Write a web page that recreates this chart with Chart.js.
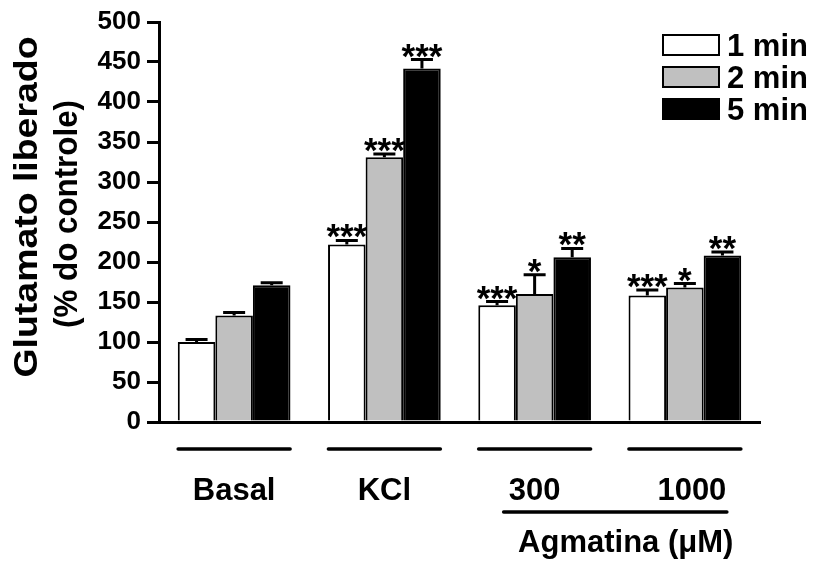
<!DOCTYPE html>
<html>
<head>
<meta charset="utf-8">
<script src="https://cdn.jsdelivr.net/npm/chart.js@4.4.1/dist/chart.umd.min.js"></script>
<style>
  html, body { margin: 0; padding: 0; background: #fff; }
  canvas { display: block; }
</style>
</head>
<body>
<canvas id="chart" width="815" height="572"></canvas>
<script>
// data
const groups    = ["Basal", "KCl", "300", "1000"];
const series    = ["1 min", "2 min", "5 min"];
const mean1min  = [100, 222, 146, 158];
const mean2min  = [133, 331, 160, 168];
const mean5min  = [171, 442, 206, 208];
const sem1min   = [3, 5, 4.5, 7];
const sem2min   = [4, 4, 24, 5];
const sem5min   = [3, 11, 11, 4.5];
const stars1min = ["", "***", "***", "***"];
const stars2min = ["", "***", "*", "*"];
const stars5min = ["", "***", "**", "**"];
const yTicks    = [0, 50, 100, 150, 200, 250, 300, 350, 400, 450, 500];
const agmatinaLabel = "Agmatina (\u03bcM)";
const yTitle    = ["Glutamato liberado", "(% do controle)"];

const FONT  = "'Liberation Sans', Arial, sans-serif";
const BLACK = "#000000";
const GRAY  = "#c0c0c0";
const WHITE = "#ffffff";

const errs  = [sem1min, sem2min, sem5min];
const stars = [stars1min, stars2min, stars5min];

// error bars + significance stars
const errorBars = {
  id: "errorBars",
  afterDatasetsDraw(chart) {
    const ctx = chart.ctx, y = chart.scales.y;
    ctx.save();
    chart.data.datasets.forEach((ds, d) => {
      const meta = chart.getDatasetMeta(d);
      meta.data.forEach((bar, i) => {
        const top = y.getPixelForValue(ds.data[i] + errs[d][i]);
        ctx.strokeStyle = BLACK;
        ctx.lineWidth = 3;
        ctx.beginPath();
        ctx.moveTo(bar.x, bar.y);
        ctx.lineTo(bar.x, top);
        ctx.moveTo(bar.x - 11, top);
        ctx.lineTo(bar.x + 11, top);
        ctx.stroke();
        if (stars[d][i]) {
          ctx.fillStyle = BLACK;
          ctx.font = "bold 35px " + FONT;
          ctx.textAlign = "center";
          ctx.textBaseline = "alphabetic";
          ctx.fillText(stars[d][i], bar.x, top + 8);
        }
      });
    });
    ctx.restore();
  }
};

// legend in the top right corner
const boxLegend = {
  id: "boxLegend",
  afterDraw(chart) {
    const ctx = chart.ctx;
    ctx.save();
    chart.data.datasets.forEach((ds, d) => {
      const top = 34 + d * 32;
      ctx.fillStyle = ds.backgroundColor;
      ctx.fillRect(662, top, 58, 22);
      ctx.strokeStyle = BLACK;
      ctx.lineWidth = 2;
      ctx.strokeRect(663, top + 1, 56, 20);
      ctx.fillStyle = BLACK;
      ctx.font = "bold 31px " + FONT;
      ctx.textAlign = "left";
      ctx.textBaseline = "alphabetic";
      ctx.fillText(ds.label, 727, top + 22);
    });
    ctx.restore();
  }
};

// group bars, group names, Agmatina bracket and the y title
const decor = {
  id: "decor",
  afterDraw(chart) {
    const ctx = chart.ctx, x = chart.scales.x;
    ctx.save();
    ctx.strokeStyle = BLACK;
    ctx.fillStyle = BLACK;
    ctx.lineCap = "round";
    ctx.lineWidth = 3.5;
    groups.forEach((g, i) => {
      const cx = x.getPixelForValue(i);
      ctx.beginPath();
      ctx.moveTo(cx - 56, 449);
      ctx.lineTo(cx + 56, 449);
      ctx.stroke();
      ctx.font = "bold 31px " + FONT;
      ctx.textAlign = "center";
      ctx.textBaseline = "alphabetic";
      ctx.fillText(g, cx + (i === 3 ? 7 : 0), 500);
    });
    const a = x.getPixelForValue(2), b = x.getPixelForValue(3);
    ctx.beginPath();
    ctx.moveTo(a - 31, 512);
    ctx.lineTo(b + 42, 512);
    ctx.stroke();
    ctx.font = "bold 31px " + FONT;
    ctx.fillText(agmatinaLabel, (a + b) / 2 + 16, 552);

    // rotated title, stretched along its length like the original
    const drawRot = (txt, bx, cy, size, len) => {
      ctx.save();
      ctx.font = "bold " + size + "px " + FONT;
      const w = ctx.measureText(txt).width;
      ctx.translate(bx, cy);
      ctx.rotate(-Math.PI / 2);
      ctx.scale(len / w, 1);
      ctx.textAlign = "center";
      ctx.textBaseline = "alphabetic";
      ctx.fillText(txt, 0, 0);
      ctx.restore();
    };
    drawRot(yTitle[0], 37, 207, 34, 341);
    drawRot(yTitle[1], 77, 214, 33, 228);
    ctx.restore();
  }
};

new Chart(document.getElementById("chart"), {
  type: "bar",
  data: {
    labels: groups,
    datasets: [
      { label: series[0], data: mean1min, backgroundColor: WHITE },
      { label: series[1], data: mean2min, backgroundColor: GRAY },
      { label: series[2], data: mean5min, backgroundColor: BLACK },
    ].map(ds => ({
      ...ds,
      borderColor: BLACK, borderWidth: 2, borderSkipped: "bottom",
      categoryPercentage: 0.75, barPercentage: 1.0,
    }))
  },
  options: {
    responsive: false,
    animation: false,
    devicePixelRatio: 1,
    layout: { padding: { left: 0, right: 55, top: 22, bottom: 0 } },
    plugins: { legend: { display: false }, tooltip: { enabled: false } },
    scales: {
      x: {
        grid: { display: false },
        ticks: { display: false },
        border: { display: true, color: BLACK, width: 3 },
        afterFit: s => { s.height = 150; }
      },
      y: {
        min: 0, max: 500,
        afterBuildTicks: s => { s.ticks = yTicks.map(v => ({ value: v })); },
        grid: { drawOnChartArea: false, drawTicks: true, tickLength: 12, color: BLACK, lineWidth: 3 },
        border: { display: true, color: BLACK, width: 3 },
        ticks: { color: BLACK, padding: 6, font: { family: FONT, size: 26, weight: "bold" } },
        afterFit: s => { s.width = 159; }
      }
    }
  },
  plugins: [errorBars, boxLegend, decor]
});
</script>
</body>
</html>
